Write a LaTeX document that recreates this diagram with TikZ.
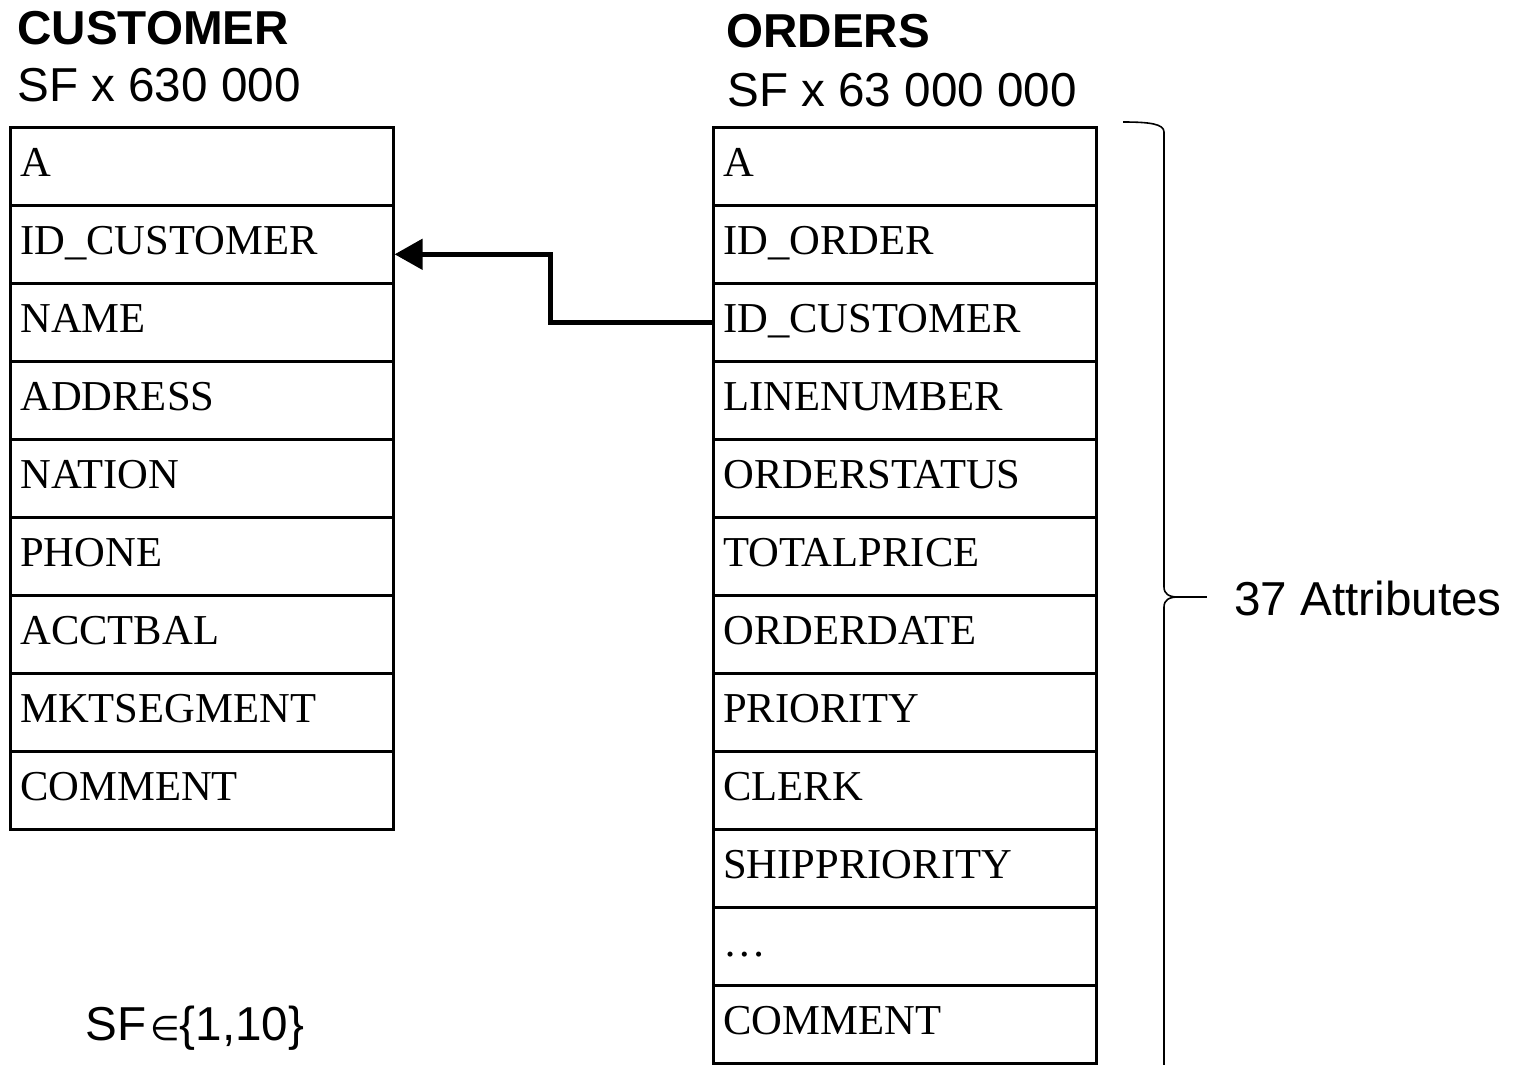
\documentclass[tikz,border=0pt]{standalone}
\usepackage{fontspec}
\setmainfont{Liberation Serif}
\newfontfamily\sansfont{Liberation Sans}
\newfontfamily\symfont{DejaVu Sans}
\usetikzlibrary{arrows.meta}
\begin{document}
\begin{tikzpicture}[x=0.5pt,y=-0.5pt,
  field/.style={draw, line width=1.3pt, anchor=north west, text width=181.5pt,
    inner xsep=5pt, inner ysep=0pt, minimum height=39pt, align=left,
    text height=14.5pt, text depth=4.5pt, font=\fontsize{21.3}{25}\selectfont},
  tabletitle/.style={anchor=base west, inner sep=0pt,
    font=\sansfont\bfseries\fontsize{23.8}{28}\selectfont},
  plain/.style={anchor=base west, inner sep=0pt,
    font=\sansfont\fontsize{23.8}{28}\selectfont},
  link/.style={line width=2.5pt, -{Triangle[length=14pt,width=15pt]}},
  bracket/.style={line width=0.8pt}
]
\useasboundingbox (0,0) rectangle (1516,1065);

% table headings
\node[tabletitle] (custtitle) at (17,45) {CUSTOMER};
\node[plain] (custsf) at (17,102) {SF x 630 000};
\node[tabletitle] (ordtitle) at (726,48) {ORDERS};
\node[plain] (ordsf) at (727,107) {SF x 63 000 000};

% CUSTOMER columns
\foreach \t [count=\i from 0] in {A, ID\_CUSTOMER, NAME, ADDRESS, NATION,
    PHONE, ACCTBAL, MKTSEGMENT, COMMENT}
  \node[field] (c\i) at (9,126+78*\i) {\t};

% ORDERS columns
\foreach \t [count=\i from 0] in {A, ID\_ORDER, ID\_CUSTOMER, LINENUMBER,
    ORDERSTATUS, TOTALPRICE, ORDERDATE, PRIORITY, CLERK, SHIPPRIORITY,
    \ldots, COMMENT}
  \node[field] (o\i) at (712,126+78*\i) {\t};

% foreign key
\coordinate (kfrom) at ([yshift=-5pt]c1.east);
\coordinate (bend) at (550,0);
\draw[link] (o2.west) -| (bend |- kfrom) -- (kfrom);

% brace over the ORDERS attributes
\draw[bracket] (1123,122) .. controls (1150,122) and (1164,124) .. (1164,132)
  -- (1164,587) .. controls (1164,594) and (1169,597) .. (1178,597)
  .. controls (1169,597) and (1164,600) .. (1164,607) -- (1164,1070);
\draw[bracket] (1178,597) -- (1207,597);
\node[plain] (attrs) at (1234,615) {37 Attributes};

% scale factor
\node[plain] (sfset) at (85,1040)
  {SF\hspace{2pt}{\symfont\fontsize{17}{20}\selectfont ∈}\{1,10\}};
\end{tikzpicture}
\end{document}
